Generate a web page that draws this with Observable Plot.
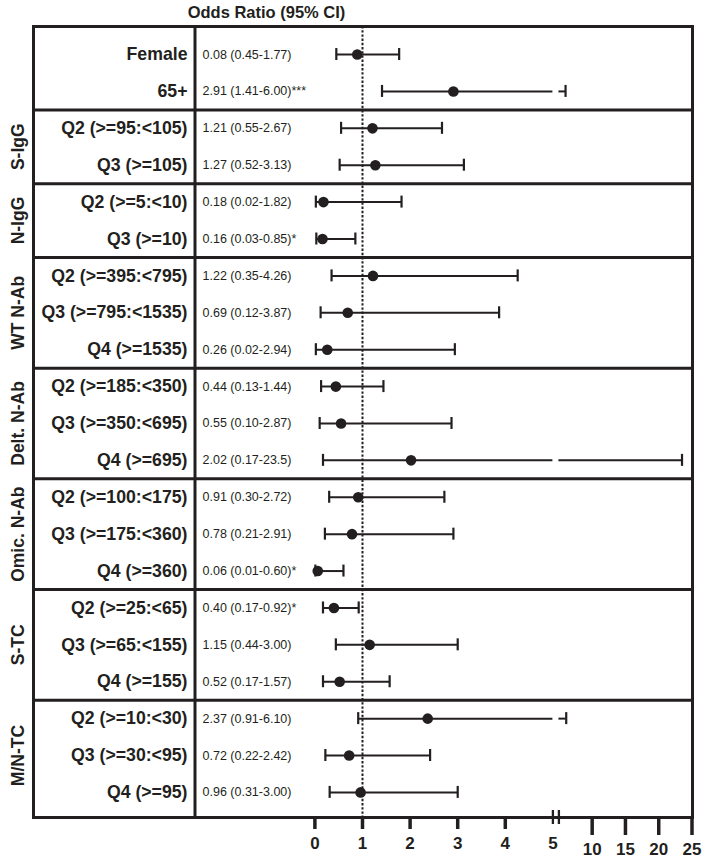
<!DOCTYPE html>
<html>
<head>
<meta charset="utf-8">
<script src="https://cdn.jsdelivr.net/npm/d3@7"></script>
<script src="https://cdn.jsdelivr.net/npm/@observablehq/plot@0.6"></script>
<style>
  html, body { margin: 0; padding: 0; background: #ffffff; }
</style>
</head>
<body>
<div id="chart"></div>
<script>
// ---------------- data ----------------
const title = "Odds Ratio (95% CI)";

const rowLabels = [
  "Female", "65+",
  "Q2 (>=95:<105)", "Q3 (>=105)",
  "Q2 (>=5:<10)", "Q3 (>=10)",
  "Q2 (>=395:<795)", "Q3 (>=795:<1535)", "Q4 (>=1535)",
  "Q2 (>=185:<350)", "Q3 (>=350:<695)", "Q4 (>=695)",
  "Q2 (>=100:<175)", "Q3 (>=175:<360)", "Q4 (>=360)",
  "Q2 (>=25:<65)", "Q3 (>=65:<155)", "Q4 (>=155)",
  "Q2 (>=10:<30)", "Q3 (>=30:<95)", "Q4 (>=95)"
];

const rowGroups = [
  "", "",
  "S-IgG", "S-IgG",
  "N-IgG", "N-IgG",
  "WT N-Ab", "WT N-Ab", "WT N-Ab",
  "Delt. N-Ab", "Delt. N-Ab", "Delt. N-Ab",
  "Omic. N-Ab", "Omic. N-Ab", "Omic. N-Ab",
  "S-TC", "S-TC", "S-TC",
  "M/N-TC", "M/N-TC", "M/N-TC"
];

const statLabels = [
  "0.08 (0.45-1.77)", "2.91 (1.41-6.00)***",
  "1.21 (0.55-2.67)", "1.27 (0.52-3.13)",
  "0.18 (0.02-1.82)", "0.16 (0.03-0.85)*",
  "1.22 (0.35-4.26)", "0.69 (0.12-3.87)", "0.26 (0.02-2.94)",
  "0.44 (0.13-1.44)", "0.55 (0.10-2.87)", "2.02 (0.17-23.5)",
  "0.91 (0.30-2.72)", "0.78 (0.21-2.91)", "0.06 (0.01-0.60)*",
  "0.40 (0.17-0.92)*", "1.15 (0.44-3.00)", "0.52 (0.17-1.57)",
  "2.37 (0.91-6.10)", "0.72 (0.22-2.42)", "0.96 (0.31-3.00)"
];

// point estimates as drawn in the picture
const oddsRatio = [
  0.89, 2.91,
  1.21, 1.27,
  0.18, 0.16,
  1.22, 0.69, 0.26,
  0.44, 0.55, 2.02,
  0.91, 0.78, 0.06,
  0.40, 1.15, 0.52,
  2.37, 0.72, 0.96
];
const ciLower = [
  0.45, 1.41,
  0.55, 0.52,
  0.02, 0.03,
  0.35, 0.12, 0.02,
  0.13, 0.10, 0.17,
  0.30, 0.21, 0.01,
  0.17, 0.44, 0.17,
  0.91, 0.22, 0.31
];
const ciUpper = [
  1.77, 6.00,
  2.67, 3.13,
  1.82, 0.85,
  4.26, 3.87, 2.94,
  1.44, 2.87, 23.5,
  2.72, 2.91, 0.60,
  0.92, 3.00, 1.57,
  6.10, 2.42, 3.00
];

const ticksLow = [0, 1, 2, 3, 4];
const breakTick = [5];
const ticksHigh = [10, 15, 20, 25];
const refValue = 1;

// ---------------- layout / derived ----------------
const INK = "#231f20";
const W = 714, H = 867;
const M = {top: 26, bottom: 50, left: 33, right: 22};
const BREAK_LO = 5, BREAK_HI = 5.0001;           // axis break
const Y_TOP = -0.76, Y_AXIS = 20.68;             // y domain (row index units)
const ROW_PX = (H - M.bottom - M.top) / (Y_AXIS - Y_TOP);
const px = p => p / ROW_PX;                       // pixels -> row units
const X0_PX = 314.4;                              // pixel of x = 0
const SEP_PX = 194.5;                             // label/stat separator

const rows = rowLabels.map((label, i) => ({
  i, label, group: rowGroups[i], stat: statLabels[i],
  or: oddsRatio[i], lo: ciLower[i], hi: ciUpper[i]
}));

const segments = rows.flatMap(r => r.hi > BREAK_LO
  ? [{i: r.i, x1: r.lo, x2: BREAK_LO}, {i: r.i, x1: BREAK_HI, x2: r.hi}]
  : [{i: r.i, x1: r.lo, x2: r.hi}]);

const groups = d3.groups(rows, d => d.group)
  .filter(([g]) => g)
  .map(([g, rs]) => ({group: g, mid: d3.mean(rs, d => d.i)}));

const boundaries = rows.slice(1)
  .filter((r, k) => r.group !== rows[k].group)
  .map(r => r.i - 0.5);

const chart = Plot.plot({
  width: W,
  height: H,
  marginTop: M.top,
  marginBottom: M.bottom,
  marginLeft: M.left,
  marginRight: M.right,
  style: {fontFamily: "'Liberation Sans', Arial, Helvetica, sans-serif", color: INK, background: "#fff"},
  x: {
    type: "linear",
    domain: [0, BREAK_LO, BREAK_HI, 25],
    range: [X0_PX, 552.4, 558.4, 691.5],
    axis: null
  },
  y: {
    type: "linear",
    domain: [Y_TOP, Y_AXIS],
    range: [M.top, H - M.bottom],
    axis: null
  },
  marks: [
    // reference line at OR = 1
    Plot.ruleX([refValue], {stroke: INK, strokeWidth: 2, strokeDasharray: "2.4,1.8"}),
    // group separators
    Plot.ruleY(boundaries, {stroke: INK, strokeWidth: 3}),
    // vertical separator between labels and values
    Plot.ruleX([0], {dx: SEP_PX - X0_PX, stroke: INK, strokeWidth: 3}),
    // outer frame (bottom edge is the x axis line)
    Plot.frame({stroke: INK, strokeWidth: 3}),
    // error bars
    Plot.ruleY(segments, {y: "i", x1: "x1", x2: "x2", stroke: INK, strokeWidth: 2}),
    Plot.ruleX(rows, {x: "lo", y1: d => d.i - px(6), y2: d => d.i + px(6), stroke: INK, strokeWidth: 2.2}),
    Plot.ruleX(rows, {x: "hi", y1: d => d.i - px(6), y2: d => d.i + px(6), stroke: INK, strokeWidth: 2.2}),
    Plot.dot(rows, {x: "or", y: "i", r: 5.3, fill: INK, stroke: null}),
    // row labels
    Plot.text(rows, {y: "i", text: "label", frameAnchor: "left", dx: 154, textAnchor: "end",
      fontSize: 17.7, fontWeight: "bold", fill: INK}),
    // stats
    Plot.text(rows, {y: "i", text: "stat", frameAnchor: "left", dx: 169, textAnchor: "start",
      fontSize: 12.5, fill: INK}),
    // group labels
    Plot.text(groups, {y: "mid", text: "group", frameAnchor: "left", dx: -15, rotate: -90,
      textAnchor: "middle", fontSize: 17.5, fontWeight: "bold", fill: INK}),
    // title
    Plot.text([title], {frameAnchor: "top-left", dx: 233, dy: -14, textAnchor: "middle", lineAnchor: "middle",
      fontSize: 16.5, fontWeight: "bold", fill: INK}),
    // x axis ticks
    Plot.ruleX(ticksLow, {x: d => d, y1: Y_AXIS, y2: Y_AXIS + px(12), stroke: INK, strokeWidth: 3.5}),
    Plot.ruleX(ticksHigh, {x: d => d, y1: Y_AXIS, y2: Y_AXIS + px(18), stroke: INK, strokeWidth: 3.5}),
    // axis break marks
    Plot.ruleX([BREAK_LO, BREAK_HI], {x: d => d, y1: Y_AXIS - px(7), y2: Y_AXIS + px(7), stroke: INK, strokeWidth: 2.3}),
    // tick labels
    Plot.text(ticksLow.concat(breakTick), {x: d => d, y: Y_AXIS, dy: 26, text: d => String(d),
      fontSize: 17, fontWeight: "bold", fill: INK}),
    Plot.text(ticksHigh, {x: d => d, y: Y_AXIS, dy: 32, text: d => String(d),
      fontSize: 17, fontWeight: "bold", fill: INK})
  ]
});

document.getElementById("chart").appendChild(chart);
</script>
</body>
</html>
